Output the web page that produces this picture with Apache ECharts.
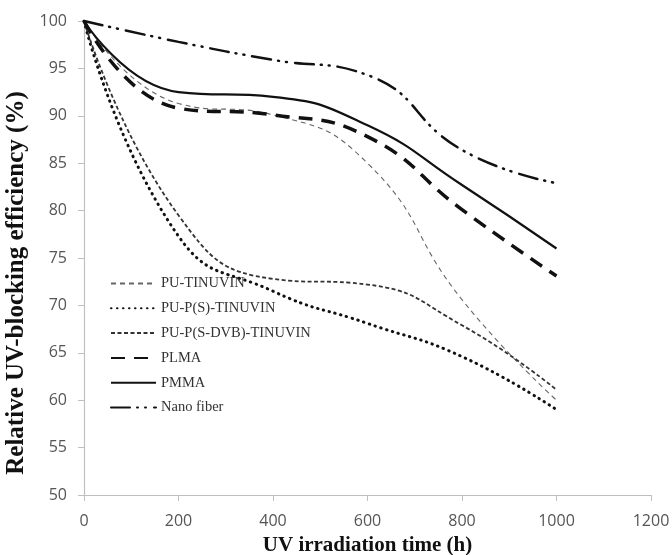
<!DOCTYPE html>
<html>
<head>
<meta charset="utf-8">
<script src="https://cdn.jsdelivr.net/npm/echarts@6/dist/echarts.min.js"></script>
<style>html,body{margin:0;padding:0;background:#fff}#c{width:672px;height:555px}</style>
</head>
<body>
<div id="c"></div>
<script>
var times = [0, 200, 400, 600, 800, 1000];
var puTinuvin = [100, 91.3, 90.1, 85.0, 70.6, 60.0];
var puPS = [100, 77.3, 71.5, 68.1, 64.6, 59.0];
var puPSDVB = [100, 79.5, 72.8, 72.2, 67.9, 61.1];
var plma = [100, 90.8, 90.1, 87.8, 80.1, 73.1];
var pmma = [100, 92.5, 92.0, 89.0, 82.7, 76.0];
var nano = [100, 97.8, 95.9, 94.3, 86.4, 82.9];
var xTicks = [0, 200, 400, 600, 800, 1000, 1200];
var yTicks = [50, 55, 60, 65, 70, 75, 80, 85, 90, 95, 100];

function pairs(v){ return times.map(function(t,i){ return [t, v[i]]; }); }

var chart = echarts.init(document.getElementById('c'), null, {renderer:'canvas'});
var axisGray = '#bfbfbf';
var labelStyle = {color:'#555', fontFamily:'Open Sans', fontSize:16};
function mk(name, data, ls){
  return {name:name, type:'line', data:pairs(data), smooth:true, symbol:'none', showSymbol:false,
    lineStyle:ls, itemStyle:{color:ls.color}, animation:false};
}
chart.setOption({
  animation:false,
  grid:{left:84, right:21, top:21, bottom:60, outerBoundsMode:'none', containLabel:false},
  xAxis:{type:'value', min:xTicks[0], max:xTicks[xTicks.length-1], interval:200,
    name:'UV irradiation time (h)', nameLocation:'middle', nameGap:40,
    nameTextStyle:{fontFamily:'Liberation Serif', fontWeight:'bold', fontSize:21, color:'#111'},
    axisLine:{lineStyle:{color:axisGray, width:1.2}},
    axisTick:{show:true, length:6, lineStyle:{color:axisGray}},
    axisLabel:Object.assign({margin:18, formatter:function(v){return String(v);}}, labelStyle),
    splitLine:{show:false}},
  yAxis:{type:'value', min:yTicks[0], max:yTicks[yTicks.length-1], interval:5,
    name:'Relative UV-blocking efficiency (%)', nameLocation:'middle', nameGap:44,
    nameTextStyle:{fontFamily:'Liberation Serif', fontWeight:'bold', fontSize:25, color:'#111', padding:[0,50,0,0]},
    axisLine:{show:true, lineStyle:{color:axisGray, width:1.2}},
    axisTick:{show:true, length:6, lineStyle:{color:axisGray}},
    axisLabel:Object.assign({margin:17, formatter:function(v){return String(v);}}, labelStyle),
    splitLine:{show:false}},
  legend:{orient:'vertical', left:110, top:276, padding:0, itemWidth:45, itemHeight:14, itemGap:9.8,
    itemStyle:{opacity:0},
    textStyle:{fontFamily:'Liberation Serif', fontSize:14.5, color:'#333'},
    data:['PU-TINUVIN','PU-P(S)-TINUVIN','PU-P(S-DVB)-TINUVIN','PLMA','PMMA','Nano fiber']},
  series:[
    mk('PU-TINUVIN', puTinuvin, {color:'#666', width:1.1, type:[5,4]}),
    mk('PU-P(S)-TINUVIN', puPS, {color:'#111', width:3, type:[0.5,5.5], cap:'round'}),
    mk('PU-P(S-DVB)-TINUVIN', puPSDVB, {color:'#333', width:1.8, type:[4,2.5]}),
    mk('PLMA', plma, {color:'#111', width:3.5, type:[14,9]}),
    mk('PMMA', pmma, {color:'#111', width:2.2, type:'solid'}),
    mk('Nano fiber', nano, {color:'#111', width:2.5, type:[19,7,1,7,1,8], cap:'round'})
  ]
});
</script>
</body>
</html>
